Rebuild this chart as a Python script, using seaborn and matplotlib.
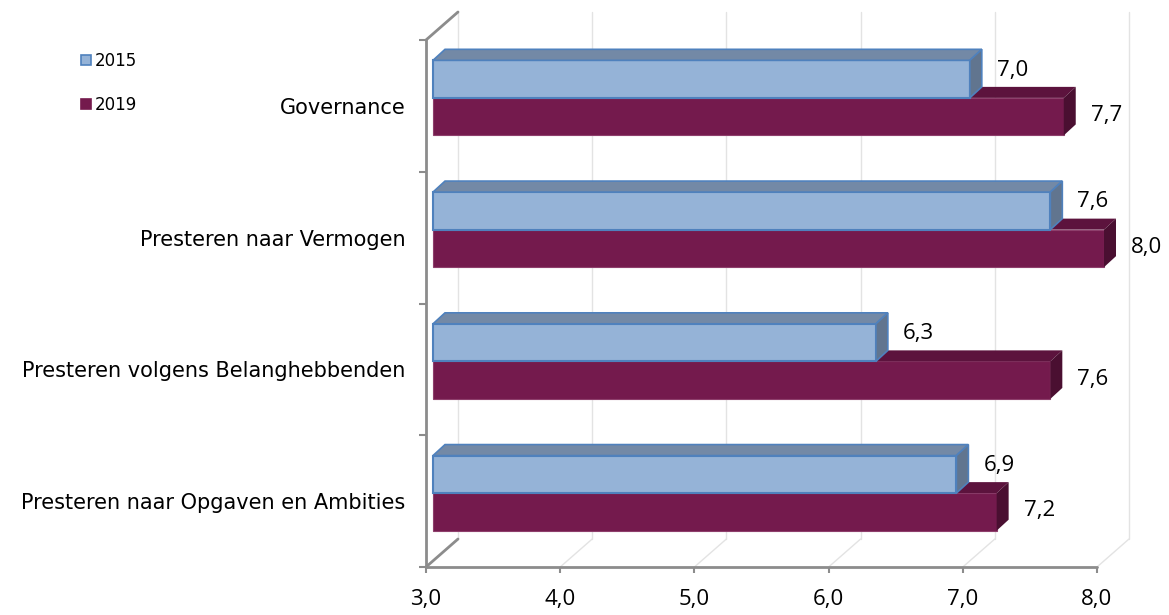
import numpy as np
import pandas as pd
import seaborn as sns
import matplotlib.pyplot as plt
from matplotlib.patches import Polygon, Patch

# Data
categories = ["Governance", "Presteren naar Vermogen",
              "Presteren volgens Belanghebbenden", "Presteren naar Opgaven en Ambities"]
years = ["2015", "2019"]
scores_2015 = [7.0, 7.6, 6.3, 6.9]
scores_2019 = [7.7, 8.0, 7.6, 7.2]
x_ticks = [3, 4, 5, 6, 7, 8]
x_tick_labels = ["3,0", "4,0", "5,0", "6,0", "7,0", "8,0"]

df = pd.DataFrame({
    "categorie": categories * 2,
    "jaar": [years[0]] * len(categories) + [years[1]] * len(categories),
    "score": scores_2015 + scores_2019,
})
values = {"2015": scores_2015, "2019": scores_2019}

# colours of the faux-3D faces
front = {"2015": "#95B3D7", "2019": "#741A4D"}
top = {"2015": "#7389A6", "2019": "#5C133D"}
side = {"2015": "#61758F", "2019": "#4A0F31"}
edge = {"2015": "#4F81BD", "2019": "#8E3F6C"}
edge_w = {"2015": 1.5, "2019": 0.8}
label_dy = {"2015": 9, "2019": 1}
grid_col = "#E3E3E3"
axis_col = "#8C8C8C"
num_font = ["Open Sans", "DejaVu Sans"]

sns.set_style("white")
plt.rcParams["font.family"] = ["DejaVu Sans"]
plt.rcParams["text.color"] = "black"
plt.rcParams["xtick.labelcolor"] = "black"
plt.rcParams["ytick.labelcolor"] = "black"

W, H = 1169, 615
fig = plt.figure(figsize=(W / 100, H / 100), dpi=100)
ax = fig.add_axes([426 / W, 48 / H, 671 / W, 527 / H])

sns.barplot(data=df, y="categorie", x="score", hue="jaar", orient="h",
            order=categories, hue_order=years, palette=front, saturation=1,
            width=0.57, ax=ax, legend=False)
ax.set_xlim(3, 8)
ax.set_ylim(3.5, -0.5)

px = 5 / 671   # data units per pixel (x)
py = 4 / 527   # data units per pixel (y, downward)

# back wall gridlines and floor lines
back_dx, back_dy = 32 * px, 28 * py
for v in x_ticks:
    ax.plot([v + back_dx] * 2, [3.5 - back_dy, -0.5 - back_dy], color=grid_col,
            lw=1, clip_on=False, zorder=0.5)
    ax.plot([v, v + back_dx], [3.5, 3.5 - back_dy],
            color=axis_col if v == 3 else grid_col, lw=2 if v == 3 else 1,
            clip_on=False, zorder=0.6)

# axis lines
ax.plot([3, 3], [-0.5, 3.5], color=axis_col, lw=2, clip_on=False, zorder=1)
ax.plot([3, 3 + back_dx], [-0.5, -0.5 - back_dy], color=axis_col, lw=2, clip_on=False, zorder=1)
ax.plot([3, 8], [3.5, 3.5], color=axis_col, lw=2, clip_on=False, zorder=1)
for s in ax.spines.values():
    s.set_visible(False)

# bars: move start to 3,0, shift front face, add top and side faces
dep_x, dep_y = 12 * px, 11 * py
for year, cont in zip(years, ax.containers):
    z = 3 if year == "2015" else 2
    for bar, val in zip(cont, values[year]):
        bar.set_x(3 + 7 * px)
        bar.set_width(bar.get_width() - 3)
        bar.set_y(bar.get_y() - 8 * py)
        bar.set_edgecolor(edge[year])
        bar.set_linewidth(edge_w[year])
        bar.set_zorder(z)
        bar.set_clip_on(False)
        x0, x1 = bar.get_x(), bar.get_x() + bar.get_width()
        y0, h = bar.get_y(), bar.get_height()
        ec = edge[year] if year == "2015" else "none"
        ax.add_patch(Polygon([(x0, y0), (x1, y0), (x1 + dep_x, y0 - dep_y), (x0 + dep_x, y0 - dep_y)],
                             closed=True, fc=top[year], ec=ec, lw=1.2, zorder=z + 0.1, clip_on=False))
        ax.add_patch(Polygon([(x1, y0), (x1 + dep_x, y0 - dep_y), (x1 + dep_x, y0 + h - dep_y), (x1, y0 + h)],
                             closed=True, fc=side[year], ec=ec, lw=1.2, zorder=z + 0.1, clip_on=False))
        ax.annotate(f"{val:.1f}".replace(".", ","), xy=(x1, y0 + h / 2),
                    xytext=(27, label_dy[year]), textcoords="offset pixels",
                    ha="left", va="center", fontsize=16, family=num_font,
                    color="black", zorder=5, annotation_clip=False)

# ticks
ax.set_xticks(x_ticks, x_tick_labels, fontsize=16, family=num_font)
ax.tick_params(axis="x", which="major", length=4, width=1.5, color=axis_col, pad=12, bottom=True)
ax.set_yticks(range(len(categories)), categories, fontsize=15)
ax.set_yticks(np.arange(-0.5, len(categories), 1), minor=True)
ax.tick_params(axis="y", which="major", length=0, pad=15, left=True)
ax.tick_params(axis="y", which="minor", length=5, width=1.5, color=axis_col, left=True)
ax.set_xlabel("")
ax.set_ylabel("")

# legend
handles = [Patch(facecolor=front[y], edgecolor=edge[y] if y == "2015" else front[y], lw=1.2) for y in years]
fig.legend(handles, years, loc="upper left", bbox_to_anchor=(81 / W, 1 - 52 / H),
           frameon=False, fontsize=12, handlelength=0.6, handleheight=0.6,
           handletextpad=0.25, labelspacing=1.55, borderpad=0, borderaxespad=0)

fig.savefig("out.png", dpi=100)
